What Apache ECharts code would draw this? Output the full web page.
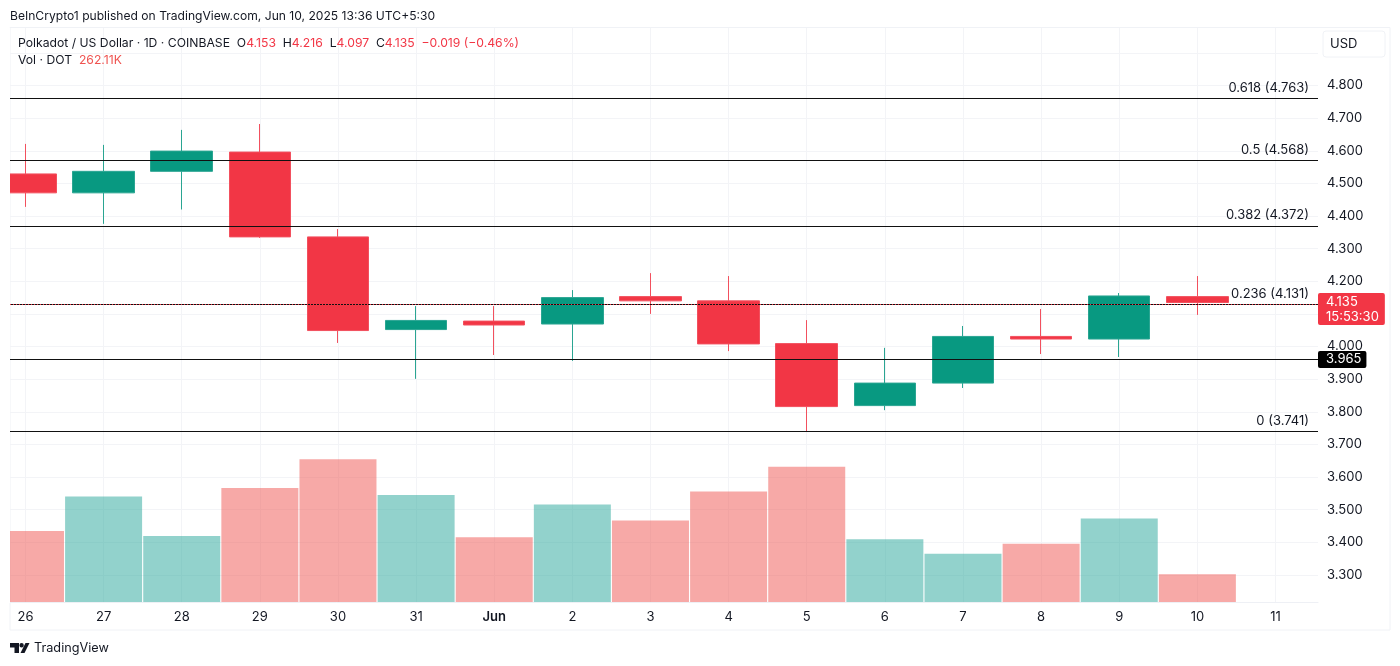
<!DOCTYPE html>
<html>
<head>
<meta charset="utf-8">
<title>Polkadot / US Dollar</title>
<script src="https://cdn.jsdelivr.net/npm/echarts@6/dist/echarts.min.js"></script>
<style>
  html, body { margin: 0; padding: 0; background: #fff; }
  #chart { width: 1400px; height: 666px; }
</style>
</head>
<body>
<div id="chart"></div>
<script>
// 日线数据
const dayLabels = ['26', '27', '28', '29', '30', '31', 'Jun', '2', '3', '4', '5', '6', '7', '8', '9', '10', '11'];
const opens  = [4.529, 4.471, 4.537, 4.596, 4.336, 4.052, 4.078, 4.069, 4.153, 4.140, 4.009, 3.819, 3.888, 4.031, 4.023, 4.153];
const closes = [4.471, 4.537, 4.599, 4.336, 4.049, 4.080, 4.066, 4.150, 4.140, 4.008, 3.816, 3.888, 4.031, 4.023, 4.155, 4.135];
const lows   = [4.428, 4.376, 4.420, 4.333, 4.011, 3.901, 3.974, 3.956, 4.100, 3.986, 3.741, 3.805, 3.873, 3.977, 3.968, 4.097];
const highs  = [4.621, 4.618, 4.664, 4.682, 4.360, 4.124, 4.124, 4.173, 4.225, 4.216, 4.081, 3.996, 4.063, 4.115, 4.164, 4.216];
const volumes = [669, 992, 622, 1072, 1343, 1006, 608, 917, 767, 1039, 1273, 590, 454, 548, 786, 262.11];

// 斐波那契回撤线
const fibNames = ['0.618', '0.5', '0.382', '0.236', '0'];
const fibValues = [4.763, 4.568, 4.372, 4.131, 3.741];
const supportPrice = 3.965;
const lastPrice = 4.135;
const countdown = '15:53:30';

const RED = '#f23645';
const GREEN = '#089981';
const FONT = 'Inter, "Noto Sans", sans-serif';
const INK = '#131722';

// x 轴范围: 左右都切在半根K线的位置
const xMin = -0.198;
const xMax = 16.544;
const tickValues = dayLabels.map((d, i) => i);

const candleData = opens.map((o, i) => [i, o, closes[i], lows[i], highs[i]]);
const volumeData = volumes.map((v, i) => ({
  value: [i, v],
  itemStyle: { color: closes[i] >= opens[i] ? 'rgba(38,166,154,0.5)' : 'rgba(239,83,80,0.5)' }
}));

// 回撤线 + 右侧价格标签
let fibLines = fibValues.map((v, i) => ({
  yAxis: v,
  lineStyle: { color: '#111', width: 1, type: 'solid' },
  label: {
    show: true,
    position: 'insideEndTop',
    distance: [9, 4],
    formatter: fibNames[i] + ' (' + v.toFixed(3) + ')',
    color: INK,
    fontFamily: FONT,
    fontSize: 13
  }
}));
fibLines.push({
  yAxis: supportPrice,
  lineStyle: { color: '#111', width: 1, type: 'solid' },
  label: {
    show: true,
    position: 'end',
    distance: 0,
    formatter: supportPrice.toFixed(3),
    color: '#fff',
    backgroundColor: '#000',
    borderRadius: 2,
    padding: [2, 5, 2, 8],
    lineHeight: 13,
    fontFamily: FONT,
    fontSize: 13
  }
});
fibLines.push({
  yAxis: lastPrice,
  lineStyle: { color: RED, width: 1, type: [1, 2] },
  label: {
    show: true,
    position: 'end',
    distance: 0,
    offset: [0, 5],
    formatter: lastPrice.toFixed(3) + '\n' + countdown,
    color: '#fff',
    backgroundColor: RED,
    borderRadius: 2,
    padding: [1, 6, 1, 8],
    lineHeight: 15,
    fontFamily: FONT,
    fontSize: 13
  }
});

const option = {
  animation: false,
  backgroundColor: '#fff',
  textStyle: { fontFamily: FONT },
  grid: [
    // 0: 成交量和竖向网格, 1: 价格
    { left: 10, right: 82, top: 28, bottom: 64 },
    { left: 10, right: 82, top: 52.87, bottom: 58.42 }
  ],
  xAxis: [
    {
      type: 'value', gridIndex: 0, min: xMin, max: xMax,
      axisLine: { show: true, lineStyle: { color: '#eef0f5' } },
      axisTick: { show: false, customValues: tickValues },
      axisLabel: {
        customValues: tickValues,
        formatter: v => dayLabels[v] === 'Jun' ? '{b|Jun}' : dayLabels[v],
        rich: { b: { fontWeight: 600, fontFamily: FONT, fontSize: 13, color: INK } },
        color: INK, fontFamily: FONT, fontSize: 13, margin: 9
      },
      splitLine: { show: true, lineStyle: { color: '#f3f4f7' } }
    },
    {
      type: 'value', gridIndex: 1, min: xMin, max: xMax, show: false,
      splitLine: { show: false }
    }
  ],
  yAxis: [
    {
      type: 'value', gridIndex: 0, min: 0, max: 5400, show: false,
      splitLine: { show: false }
    },
    {
      type: 'value', gridIndex: 1, position: 'right', min: 3.2, max: 4.9, interval: 0.1,
      axisLine: { show: false },
      axisTick: { show: false },
      axisLabel: {
        formatter: v => v.toFixed(3),
        showMinLabel: false,
        showMaxLabel: false,
        padding: [4, 0, 0, 0],
        color: INK, fontFamily: FONT, fontSize: 13, margin: 9
      },
      splitLine: { show: true, showMinLine: false, lineStyle: { color: '#f3f4f7' } }
    }
  ],
  series: [
    {
      type: 'bar',
      name: 'Vol',
      xAxisIndex: 0,
      yAxisIndex: 0,
      barWidth: 77,
      clip: true,
      data: volumeData,
      z: 1
    },
    {
      type: 'candlestick',
      name: 'DOT',
      xAxisIndex: 1,
      yAxisIndex: 1,
      barWidth: 62,
      clip: true,
      data: candleData,
      itemStyle: {
        color: GREEN, color0: RED,
        borderColor: '#2aa592', borderColor0: '#f2505e',
        borderWidth: 1
      },
      z: 3,
      markLine: {
        silent: true,
        symbol: 'none',
        animation: false,
        data: fibLines
      }
    }
  ],
  graphic: [
    // 左边界外的半根K线盖掉
    { type: 'rect', silent: true, z: 10, shape: { x: 0, y: 28, width: 10, height: 575 }, style: { fill: '#fff' } },
    { type: 'rect', silent: true, z: -1, shape: { x: 10, y: 27.5, width: 1380, height: 602.5 }, style: { fill: 'none', stroke: '#f0f2f6' } },
    { type: 'rect', silent: true, z: 5, shape: { x: 1323, y: 31, width: 62, height: 26, r: 3 }, style: { fill: '#fff', stroke: '#f0f2f6' } },
    { type: 'text', z: 6, x: 1330, y: 38, style: { text: 'USD', fill: INK, fontFamily: FONT, fontSize: 13 } },
    { type: 'text', x: 10, y: 10, style: { text: 'BeInCrypto1 published on TradingView.com, Jun 10, 2025 13:36 UTC+5:30', fill: INK, fontFamily: FONT, fontSize: 12.1 } },
    {
      type: 'text', z: 12, x: 18, y: 37,
      style: {
        text: '{k|Polkadot / US Dollar · 1D · COINBASE  O}{v|4.153}{k|  H}{v|4.216}{k|  L}{v|4.097}{k|  C}{v|4.135}{v|  −0.019 (−0.46%)}',
        rich: {
          k: { fill: INK, fontFamily: FONT, fontSize: 12.2 },
          v: { fill: RED, fontFamily: FONT, fontSize: 12.2 }
        }
      }
    },
    {
      type: 'text', z: 12, x: 18, y: 54,
      style: {
        text: '{k|Vol · DOT  }{v|262.11K}',
        rich: {
          k: { fill: INK, fontFamily: FONT, fontSize: 12.2 },
          v: { fill: '#ef5350', fontFamily: FONT, fontSize: 12.2 }
        }
      }
    },
    // TradingView 标志
    { type: 'polygon', shape: { points: [[10, 643], [19, 643], [19, 653], [14.5, 653], [14.5, 647.5], [10, 647.5]] }, style: { fill: INK } },
    { type: 'circle', shape: { cx: 21.6, cy: 645.2, r: 2.2 }, style: { fill: INK } },
    { type: 'polygon', shape: { points: [[25.5, 643], [29.5, 643], [24.5, 653], [20.5, 653]] }, style: { fill: INK } },
    { type: 'text', x: 34, y: 642, style: { text: 'TradingView', fill: INK, fontFamily: FONT, fontSize: 12.7 } }
  ]
};

const chart = echarts.init(document.getElementById('chart'));
chart.setOption(option);
</script>
</body>
</html>
